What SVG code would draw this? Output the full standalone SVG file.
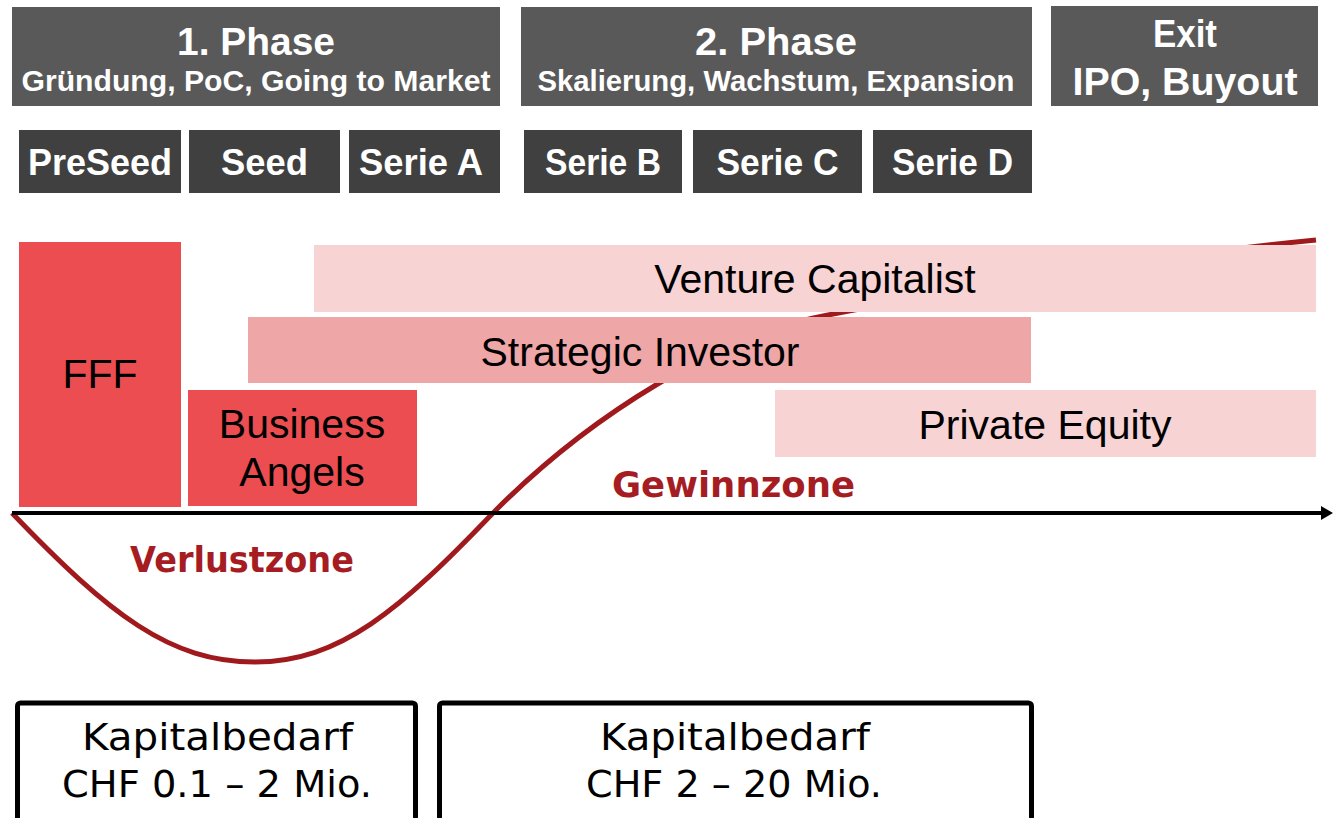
<svg xmlns="http://www.w3.org/2000/svg" width="1333" height="818" viewBox="0 0 1333 818">
<style>
.hdr{fill:#595959}
.ser{fill:#404040}
.wb{font-family:"Liberation Sans",Arial,sans-serif;font-weight:bold;fill:#ffffff;text-anchor:middle}
.lbl{font-family:"Liberation Sans",Arial,sans-serif;fill:#000000;text-anchor:middle;font-size:41px}
.zone{font-family:"DejaVu Sans",sans-serif;font-weight:bold;fill:#A51D22;font-size:36px}
.cap{font-family:"DejaVu Sans",sans-serif;fill:#000000;font-size:38px}
.red{fill:#EC4D51}
.mid{fill:#EFA6A7}
.light{fill:#F7D3D4}
.kb{fill:#ffffff;stroke:#000000;stroke-width:5}
</style>
<rect x="0" y="0" width="1333" height="818" fill="#ffffff"/>

<g id="connectors">
  <path id="curve" d="M12,513 C110,615 170,662 255,662 C340,662 400,610 493,513 C590,415 720,335 828,315 C930,296 1150,256 1316,240" fill="none" stroke="#A01A1D" stroke-width="5"/>
  <line id="axis" x1="12" y1="513" x2="1324" y2="513" stroke="#000000" stroke-width="4"/>
  <polygon points="1321,506 1333,513 1321,520" fill="#000000"/>
</g>

<g id="phase1">
  <rect class="hdr" x="12" y="7" width="488" height="99"/>
  <text class="wb" x="256" y="55" font-size="39" textLength="158" lengthAdjust="spacingAndGlyphs">1. Phase</text>
  <text class="wb" x="256" y="91" font-size="29" textLength="469" lengthAdjust="spacingAndGlyphs">Gründung, PoC, Going to Market</text>
</g>
<g id="phase2">
  <rect class="hdr" x="521" y="7" width="511" height="99"/>
  <text class="wb" x="776" y="55" font-size="39" textLength="162" lengthAdjust="spacingAndGlyphs">2. Phase</text>
  <text class="wb" x="776" y="91" font-size="29" textLength="477" lengthAdjust="spacingAndGlyphs">Skalierung, Wachstum, Expansion</text>
</g>
<g id="exit">
  <rect class="hdr" x="1051" y="6" width="267" height="100"/>
  <text class="wb" x="1185" y="47" font-size="39" textLength="64" lengthAdjust="spacingAndGlyphs">Exit</text>
  <text class="wb" x="1185" y="95" font-size="39" textLength="225" lengthAdjust="spacingAndGlyphs">IPO, Buyout</text>
</g>

<g id="preseed">
  <rect class="ser" x="19" y="130" width="162" height="63"/>
  <text class="wb" x="100" y="175" font-size="36" textLength="144" lengthAdjust="spacingAndGlyphs">PreSeed</text>
</g>
<g id="seed">
  <rect class="ser" x="189" y="130" width="151" height="63"/>
  <text class="wb" x="264.5" y="175" font-size="36" textLength="87" lengthAdjust="spacingAndGlyphs">Seed</text>
</g>
<g id="serieA">
  <rect class="ser" x="349" y="130" width="151" height="63"/>
  <text class="wb" x="421" y="175" font-size="36" textLength="124" lengthAdjust="spacingAndGlyphs">Serie A</text>
</g>
<g id="serieB">
  <rect class="ser" x="524" y="130" width="158" height="63"/>
  <text class="wb" x="603" y="175" font-size="36" textLength="116" lengthAdjust="spacingAndGlyphs">Serie B</text>
</g>
<g id="serieC">
  <rect class="ser" x="693" y="130" width="169" height="63"/>
  <text class="wb" x="777.5" y="175" font-size="36" textLength="122" lengthAdjust="spacingAndGlyphs">Serie C</text>
</g>
<g id="serieD">
  <rect class="ser" x="873" y="130" width="159" height="63"/>
  <text class="wb" x="952.5" y="175" font-size="36" textLength="121" lengthAdjust="spacingAndGlyphs">Serie D</text>
</g>

<g id="fff">
  <rect class="red" x="19" y="242" width="162" height="265"/>
  <text class="lbl" x="100" y="388">FFF</text>
</g>
<g id="business-angels">
  <rect class="red" x="188" y="390" width="229" height="116"/>
  <text class="lbl" x="302" y="438">Business</text>
  <text class="lbl" x="302" y="486">Angels</text>
</g>
<g id="venture-capitalist">
  <rect class="light" x="314" y="245" width="1002" height="67"/>
  <text class="lbl" x="815" y="293">Venture Capitalist</text>
</g>
<g id="strategic-investor">
  <rect class="mid" x="248" y="317" width="783" height="66"/>
  <text class="lbl" x="640" y="366">Strategic Investor</text>
</g>
<g id="private-equity">
  <rect class="light" x="775" y="390" width="541" height="67"/>
  <text class="lbl" x="1045" y="439">Private Equity</text>
</g>

<g id="gewinnzone">
  <text class="zone" x="612" y="497" textLength="243" lengthAdjust="spacingAndGlyphs">Gewinnzone</text>
</g>
<g id="verlustzone">
  <text class="zone" x="130" y="572" textLength="224" lengthAdjust="spacingAndGlyphs">Verlustzone</text>
</g>

<g id="kapital1">
  <rect class="kb" x="17.5" y="703" width="398" height="130" rx="3"/>
  <text class="cap" x="82" y="750" textLength="271" lengthAdjust="spacingAndGlyphs">Kapitalbedarf</text>
  <text class="cap" x="62" y="797" textLength="310" lengthAdjust="spacingAndGlyphs">CHF 0.1 – 2 Mio.</text>
</g>
<g id="kapital2">
  <rect class="kb" x="439.5" y="703" width="592" height="130" rx="3"/>
  <text class="cap" x="600" y="750" textLength="270" lengthAdjust="spacingAndGlyphs">Kapitalbedarf</text>
  <text class="cap" x="586" y="797" textLength="296" lengthAdjust="spacingAndGlyphs">CHF 2 – 20 Mio.</text>
</g>
</svg>
